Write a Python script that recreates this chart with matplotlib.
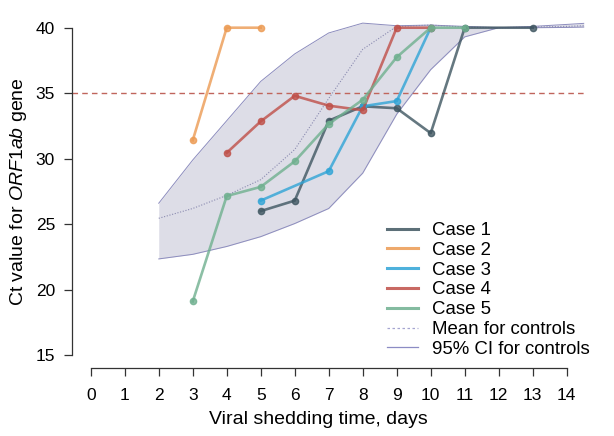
import matplotlib
matplotlib.use("Agg")
import matplotlib.pyplot as plt
from matplotlib.lines import Line2D

plt.rcParams['font.family'] = ['Liberation Sans', 'DejaVu Sans']
plt.rcParams['mathtext.fontset'] = 'custom'
plt.rcParams['mathtext.rm'] = 'Liberation Sans'
plt.rcParams['mathtext.it'] = 'Liberation Sans:italic'

# case data (day, Ct value)
case1_days = [5, 6, 7, 8, 9, 10, 11, 13]
case1_ct = [26.0, 26.8, 32.9, 34.0, 33.85, 31.95, 40, 40]
case2_days = [3, 4, 5]
case2_ct = [31.4, 40, 40]
case3_days = [5, 7, 8, 9, 10]
case3_ct = [26.8, 29.05, 34.0, 34.4, 40]
case4_days = [4, 5, 6, 7, 8, 9, 10]
case4_ct = [30.45, 32.85, 34.8, 34.05, 33.7, 40, 40]
case5_days = [3, 4, 5, 6, 7, 8, 9, 10, 11]
case5_ct = [19.1, 27.15, 27.85, 29.8, 32.65, 34.5, 37.75, 40, 40]

# controls
ctrl_days = [2, 3, 4, 5, 6, 7, 8, 9, 10, 11, 12, 13, 14, 14.5]
ctrl_mean = [25.45, 26.2, 27.2, 28.4, 30.7, 34.6, 38.35, 40.1, 40.2, 40.05, 40.0, 40.05, 40.1, 40.15]
ctrl_upper = [26.6, 29.9, 32.9, 35.9, 38.0, 39.6, 40.35, 40.15, 40.2, 40.1, 40.0, 40.1, 40.25, 40.33]
ctrl_lower = [22.35, 22.7, 23.3, 24.05, 25.05, 26.2, 28.9, 33.4, 36.8, 39.3, 40.0, 40.0, 40.02, 40.05]

cutoff = 35
x_ticks = list(range(0, 15))
y_ticks = [15, 20, 25, 30, 35, 40]

cases = [
    ("Case 1", case1_days, case1_ct, "#3f5661"),
    ("Case 2", case2_days, case2_ct, "#ec9a52"),
    ("Case 3", case3_days, case3_ct, "#2fa4d6"),
    ("Case 4", case4_days, case4_ct, "#bf4f48"),
    ("Case 5", case5_days, case5_ct, "#6fb08f"),
]

fig = plt.figure(figsize=(6.14, 4.36), dpi=100)
ax = fig.add_axes([71.7 / 614, 67.7 / 436, 512 / 614, 353.7 / 436])

# control band
ax.fill_between(ctrl_days, ctrl_lower, ctrl_upper, color="#dddde7", lw=0, clip_on=False)
ax.plot(ctrl_days, ctrl_upper, color="#8c8cbd", lw=0.7, clip_on=False)
ax.plot(ctrl_days, ctrl_lower, color="#8c8cbd", lw=0.7, clip_on=False)
ax.plot(ctrl_days, ctrl_mean, color="#8a8ab0", lw=0.8, ls=(0, (1, 1.5)), clip_on=False)

ax.axhline(cutoff, color="#c0655c", lw=1, ls=(0, (4, 3)))

for name, d, v, c in cases:
    ax.plot(d, v, color=c, lw=1.9, alpha=0.8, marker="o", ms=4.5, mec=c, mfc=c,
            clip_on=False)

ax.set_xlim(-0.56, 14.5)
ax.set_ylim(14.0, 41.0)
ax.set_xticks(x_ticks)
ax.set_yticks(y_ticks)
ax.spines['top'].set_visible(False)
ax.spines['right'].set_visible(False)
ax.spines['left'].set_bounds(15, 40)
ax.spines['bottom'].set_bounds(0, 14)
for s in ['left', 'bottom']:
    ax.spines[s].set_color("#333333")
    ax.spines[s].set_linewidth(0.9)
ax.tick_params(axis='both', length=5.5, width=0.9, color="#333333", labelsize=12.5)
ax.tick_params(axis='x', pad=8.4)
ax.tick_params(axis='y', pad=6.5)

ax.set_xlabel("Viral shedding time, days", fontsize=14)
ax.set_ylabel(r"Ct value for $\mathit{ORF1ab}$ gene", fontsize=14)
ax.xaxis.set_label_coords((318.4 - 71.7) / 512, (368.3 - 411) / 353.7)
ax.yaxis.set_label_coords((29 - 71.7) / 512, 0.5)

handles = [Line2D([], [], color=c, lw=2.2, alpha=0.85) for _, _, _, c in cases]
handles.append(Line2D([], [], color="#a5a5d0", lw=0.9, ls=(0, (2, 2))))
handles.append(Line2D([], [], color="#8c8cc4", lw=0.9))
labels = [n for n, _, _, _ in cases] + ["Mean for controls", "95% CI for controls"]
fig.legend(handles, labels, loc="upper left", bbox_to_anchor=(386.7 / 614, 1 - 222 / 436),
           frameon=False, fontsize=13.4, borderpad=0, borderaxespad=0,
           handlelength=1.7, handletextpad=0.72, labelspacing=0.15)

fig.savefig("out.png", dpi=100)
